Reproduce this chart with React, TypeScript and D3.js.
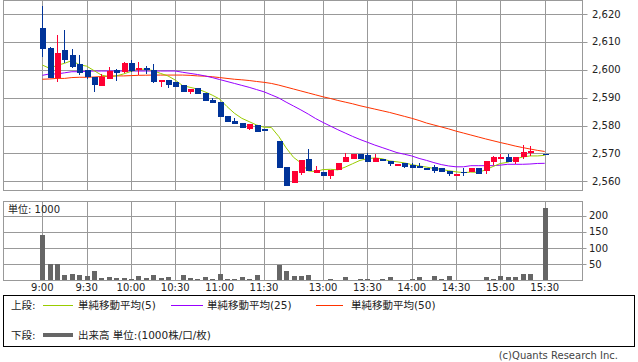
import { useEffect, useRef } from "react";
import * as d3 from "d3";

// ---------------------------------------------------------------------------
// Data (5-minute bars, slot index; null = no trade / lunch gap)
// ---------------------------------------------------------------------------

const OPEN: (number | null)[] = [
  2615.0, 2607.8, 2597.2, 2607.1, 2605.3, 2602.1, 2599.8, 2597.3, 2594.2, 2596.8,
  2599.8, 2599.3, 2602.5, 2599.9, 2600.6, 2599.9, 2595.7, 2596.3, 2595.5, 2594.5,
  2591.9, 2593.6, 2591.7, 2589.3, 2588.5, 2583.4, 2581.6, 2580.9, 2578.9, 2580.2,
  2578.6, null, 2574.5, 2565.2, 2559.4, 2563.1, 2567.9, 2563.1, 2563.3, 2562.0,
  2564.0, 2567.0, 2567.9, 2569.9, 2569.3, 2567.0, 2567.9, 2567.3, 2565.4, 2566.6,
  2565.7, 2565.5, 2564.7, 2565.0, 2564.7, 2563.8, 2562.0, 2563.5, 2563.3, 2564.8,
  2563.6, 2566.9, 2567.9, 2568.6, 2566.9, 2568.6, 2570.0, null, 2569.9,
];

const HIGH: (number | null)[] = [
  2622.9, 2608.0, 2612.5, 2614.3, 2607.5, 2605.3, 2599.8, 2597.3, 2598.5, 2601.1,
  2600.2, 2602.9, 2603.5, 2602.8, 2601.3, 2602.1, 2596.3, 2596.3, 2595.5, 2594.5,
  2593.2, 2593.6, 2591.7, 2590.0, 2588.5, 2583.4, 2582.6, 2580.9, 2580.4, 2580.2,
  2578.6, null, 2574.5, 2565.2, 2563.7, 2567.6, 2571.6, 2565.5, 2563.3, 2564.0,
  2566.7, 2570.0, 2569.9, 2569.9, 2570.0, 2569.8, 2567.9, 2567.3, 2566.3, 2566.6,
  2566.6, 2566.4, 2564.7, 2565.7, 2564.7, 2563.8, 2562.7, 2564.9, 2564.8, 2564.8,
  2567.2, 2569.1, 2569.7, 2569.8, 2568.6, 2573.0, 2572.8, null, 2569.9,
];

const LOW: (number | null)[] = [
  2604.7, 2597.0, 2595.7, 2602.4, 2600.7, 2598.1, 2596.7, 2592.1, 2594.2, 2596.8,
  2596.1, 2598.9, 2599.3, 2598.1, 2598.5, 2595.4, 2593.9, 2593.3, 2593.8, 2591.9,
  2591.3, 2591.4, 2588.9, 2588.2, 2583.2, 2581.4, 2580.7, 2579.2, 2578.5, 2577.8,
  2578.4, null, 2564.9, 2558.4, 2559.4, 2562.1, 2563.7, 2563.1, 2562.0, 2560.7,
  2564.0, 2567.0, 2567.9, 2567.9, 2567.0, 2567.0, 2567.3, 2565.6, 2565.4, 2564.9,
  2564.9, 2564.8, 2564.5, 2563.1, 2563.4, 2562.0, 2562.0, 2562.0, 2563.3, 2562.6,
  2562.5, 2565.9, 2567.9, 2567.0, 2566.3, 2568.1, 2569.1, null, 2569.7,
];

const CLOSE: (number | null)[] = [
  2607.6, 2597.2, 2606.0, 2603.5, 2601.1, 2598.7, 2597.3, 2594.6, 2597.3, 2599.7,
  2598.7, 2602.5, 2599.7, 2600.6, 2600.2, 2595.6, 2596.3, 2594.5, 2593.8, 2591.9,
  2593.2, 2591.4, 2588.9, 2588.2, 2583.2, 2581.4, 2580.7, 2579.2, 2580.4, 2577.8,
  2578.4, null, 2564.9, 2558.4, 2563.7, 2567.6, 2563.7, 2564.0, 2562.0, 2564.0,
  2566.7, 2568.8, 2569.9, 2567.9, 2567.0, 2568.2, 2567.3, 2566.2, 2566.3, 2565.2,
  2564.9, 2564.8, 2564.5, 2563.8, 2563.4, 2562.5, 2562.7, 2563.3, 2564.8, 2562.6,
  2567.2, 2568.6, 2568.7, 2567.0, 2568.6, 2570.5, 2570.8, null, 2569.7,
];

const VOLUME: (number | null)[] = [
  139, 49.5, 49.5, 18.5, 21.6, 18.5, 12.4, 27.8, 7.2, 10.3,
  7.2, 7.2, 4, 12.4, 7.2, 15.5, 7.2, 9.3, 3, 15.5,
  7.2, 4, 9.3, 4, 21.6, 4, 4, 9.3, 4, 15.5,
  2, null, 47, 27.8, 13.4, 12.4, 18.5, 3, 3, 6,
  3, 9.3, 3, 6, 6, 3, 6, 9.3, 3, 3,
  6, 9.3, 1, 12.4, 4, 12.4, 3, 3, 3, 3,
  9.3, 6, 12.4, 9.3, 9.3, 21.6, 21.6, null, 225,
];

const MA5 = [
  2601.7, 2600.5, 2601.6, 2602.3, 2603.3, 2601.8, 2601.3, 2599.7, 2598.1, 2597.5,
  2597.8, 2598.5, 2599.4, 2600.2, 2600.2, 2599.7, 2598.7, 2597.8, 2596.3, 2594.3,
  2593.7, 2593.1, 2592.1, 2590.9, 2589.5, 2586.8, 2584.4, 2582.6, 2581.4, 2580.2,
  2579.4, 2579.3, 2576.1, 2572.0, 2568.6, 2566.6, 2563.7, 2563.5, 2564.2, 2564.3,
  2564.1, 2565.1, 2566.3, 2567.5, 2568.1, 2568.4, 2568.1, 2567.3, 2567.0, 2566.6,
  2566.0, 2565.5, 2565.1, 2564.6, 2564.3, 2563.8, 2563.4, 2563.1, 2563.3, 2563.2,
  2564.1, 2565.3, 2566.4, 2566.8, 2568.0, 2568.7, 2569.1, 2569.1, 2569.3,
];

const MA25 = [
  2598.0, 2598.5, 2598.5, 2598.9, 2599.3, 2599.3, 2599.45, 2599.55, 2599.55, 2599.55,
  2599.55, 2599.55, 2599.55, 2599.55, 2599.55, 2599.55, 2599.55, 2599.55, 2599.55, 2599.1,
  2598.7, 2598.3, 2597.8, 2597.2, 2596.5, 2595.8, 2595.1, 2594.4, 2593.7, 2592.9,
  2592.1, 2591.0, 2589.9, 2588.4, 2587.0, 2585.6, 2584.1, 2582.5, 2581.1, 2579.8,
  2578.5, 2577.3, 2576.1, 2575.0, 2574.0, 2573.0, 2572.1, 2571.2, 2570.3, 2569.7,
  2569.1, 2568.2, 2567.5, 2566.7, 2566.0, 2565.5, 2565.2, 2565.2, 2565.6, 2565.6,
  2565.6, 2565.6, 2565.8, 2566.1, 2566.1, 2566.1, 2566.2, 2566.4, 2566.45,
];

const MA50 = [
  2596.6, 2596.7, 2596.9, 2596.9, 2597.2, 2597.3, 2597.3, 2597.4, 2597.6, 2597.7,
  2597.8, 2597.8, 2597.9, 2598.0, 2598.05, 2598.1, 2598.1, 2598.1, 2598.1, 2598.1,
  2598.0, 2597.8, 2597.7, 2597.5, 2597.2, 2596.9, 2596.6, 2596.4, 2596.15, 2595.8,
  2595.5, 2595.1, 2594.5, 2593.8, 2593.1, 2592.4, 2591.7, 2591.0, 2590.3, 2589.7,
  2589.0, 2588.4, 2587.8, 2587.1, 2586.5, 2585.9, 2585.3, 2584.7, 2584.0, 2583.3,
  2582.6, 2581.8, 2580.9, 2580.2, 2579.5, 2578.8, 2578.0, 2577.3, 2576.6, 2575.9,
  2575.2, 2574.55, 2573.9, 2573.3, 2572.65, 2572.1, 2571.6, 2571.1, 2570.7,
];

const TIME_TICKS: [number, string][] = [
  [0, "9:00"], [6, "9:30"], [12, "10:00"], [18, "10:30"], [24, "11:00"], [30, "11:30"],
  [38, "13:00"], [44, "13:30"], [50, "14:00"], [56, "14:30"], [62, "15:00"], [68, "15:30"],
];

const PRICE_TICKS = [2560, 2570, 2580, 2590, 2600, 2610, 2620];
const VOLUME_TICKS = [50, 100, 150, 200];

const UP = "#ff0033";
const DOWN = "#003399";
const GRID = "#999999";
const FONT = "'DejaVu Sans', 'Noto Sans CJK JP', sans-serif";

export default function App() {
  const svgRef = useRef<SVGSVGElement>(null);

  useEffect(() => {
    document.body.style.margin = "0";
    const svg = d3.select(svgRef.current);
    svg.selectAll("*").remove();

    const left = 3.5;
    const right = 582.5;
    const priceTop = 0.5;
    const priceBottom = 190.5;
    const volTop = 201.5;
    const volBottom = 280.5;

    const x = d3.scaleLinear().domain([0, 68]).range([42.3, 544.7]);
    const y = d3.scaleLinear().domain([2560, 2620]).range([181.3, 14]);
    const yv = d3.scaleLinear().domain([0, 200]).range([280.5, 215.7]);
    const px = (v: number) => Math.round(v) + 0.5;

    // ---- Price panel grid ----
    const g = svg.append("g");
    g.append("g")
      .selectAll("line")
      .data(PRICE_TICKS)
      .join("line")
      .attr("x1", left)
      .attr("x2", right + 5)
      .attr("y1", (d) => px(y(d)))
      .attr("y2", (d) => px(y(d)))
      .attr("stroke", GRID);
    g.append("g")
      .selectAll("line")
      .data(TIME_TICKS)
      .join("line")
      .attr("x1", (d) => px(x(d[0])))
      .attr("x2", (d) => px(x(d[0])))
      .attr("y1", priceTop)
      .attr("y2", priceBottom)
      .attr("stroke", GRID);
    g.append("rect")
      .attr("x", left)
      .attr("y", priceTop)
      .attr("width", right - left)
      .attr("height", priceBottom - priceTop)
      .attr("fill", "none")
      .attr("stroke", GRID);
    g.append("g")
      .selectAll("text")
      .data(PRICE_TICKS)
      .join("text")
      .attr("x", 592)
      .attr("y", (d) => y(d))
      .attr("dy", "0.35em")
      .attr("font-size", 10)
      .attr("font-family", FONT)
      .attr("fill", "#222")
      .text((d) => d3.format(",")(d));

    // ---- Moving averages ----
    const idx = d3.range(MA5.length);
    const line = (arr: number[]) =>
      d3
        .line<number>()
        .x((i) => x(i))
        .y((i) => y(arr[i]))(idx);
    const mas: [number[], string][] = [
      [MA50, "#ff3300"],
      [MA25, "#9900ff"],
      [MA5, "#99cc00"],
    ];
    mas.forEach(([arr, color]) => {
      g.append("path")
        .attr("d", line(arr))
        .attr("fill", "none")
        .attr("stroke", color)
        .attr("stroke-width", 1);
    });

    // ---- Candles ----
    const bars = idx.filter((i) => OPEN[i] != null);
    const candles = g.append("g").attr("shape-rendering", "crispEdges");
    candles
      .selectAll("line")
      .data(bars)
      .join("line")
      .attr("x1", (i) => px(x(i)))
      .attr("x2", (i) => px(x(i)))
      .attr("y1", (i) => y(HIGH[i]!))
      .attr("y2", (i) => y(LOW[i]!))
      .attr("stroke", (i) => (CLOSE[i]! >= OPEN[i]! ? UP : DOWN));
    candles
      .selectAll("rect")
      .data(bars)
      .join("rect")
      .attr("x", (i) => Math.round(x(i)) - 2)
      .attr("width", 6)
      .attr("y", (i) => y(Math.max(OPEN[i]!, CLOSE[i]!)))
      .attr("height", (i) => Math.max(1.5, Math.abs(y(OPEN[i]!) - y(CLOSE[i]!))))
      .attr("fill", (i) => (CLOSE[i]! >= OPEN[i]! ? UP : DOWN));

    // ---- Volume panel ----
    const vg = svg.append("g");
    vg.append("g")
      .selectAll("line")
      .data(VOLUME_TICKS)
      .join("line")
      .attr("x1", left)
      .attr("x2", right + 4)
      .attr("y1", (d) => px(yv(d)))
      .attr("y2", (d) => px(yv(d)))
      .attr("stroke", GRID);
    vg.append("g")
      .selectAll("line")
      .data(TIME_TICKS)
      .join("line")
      .attr("x1", (d) => px(x(d[0])))
      .attr("x2", (d) => px(x(d[0])))
      .attr("y1", volTop)
      .attr("y2", volBottom)
      .attr("stroke", GRID);
    vg.append("g")
      .attr("shape-rendering", "crispEdges")
      .selectAll("rect")
      .data(idx.filter((i) => VOLUME[i] != null))
      .join("rect")
      .attr("x", (i) => Math.round(x(i)) - 2)
      .attr("width", 5)
      .attr("y", (i) => yv(VOLUME[i]!))
      .attr("height", (i) => yv(0) - yv(VOLUME[i]!))
      .attr("fill", "#666666");
    vg.append("rect")
      .attr("x", left)
      .attr("y", volTop)
      .attr("width", right - left)
      .attr("height", volBottom - volTop)
      .attr("fill", "none")
      .attr("stroke", GRID);
    vg.append("text")
      .attr("x", 8)
      .attr("y", 209)
      .attr("dy", "0.35em")
      .attr("font-size", 10)
      .attr("font-family", FONT)
      .attr("fill", "#222")
      .text("単位: 1000");
    vg.append("g")
      .selectAll("text")
      .data(VOLUME_TICKS)
      .join("text")
      .attr("x", 589)
      .attr("y", (d) => yv(d))
      .attr("dy", "0.35em")
      .attr("font-size", 10)
      .attr("font-family", FONT)
      .attr("fill", "#222")
      .text((d) => d);
    vg.append("g")
      .selectAll("text")
      .data(TIME_TICKS)
      .join("text")
      .attr("x", (d) => x(d[0]))
      .attr("y", 287.5)
      .attr("dy", "0.35em")
      .attr("text-anchor", "middle")
      .attr("font-size", 10)
      .attr("font-family", FONT)
      .attr("fill", "#222")
      .text((d) => d[1]);

    // ---- Legend ----
    const lg = svg.append("g").attr("font-family", FONT).attr("font-size", 10.5).attr("fill", "#222");
    lg.append("rect")
      .attr("x", 3.5)
      .attr("y", 295.5)
      .attr("width", 631)
      .attr("height", 51)
      .attr("fill", "none")
      .attr("stroke", "#000");
    const legendItems: [number, number, number, string, number, string][] = [
      [43, 73, 305, "#99cc00", 78, "単純移動平均(5)"],
      [171, 203, 305, "#9900ff", 207, "単純移動平均(25)"],
      [316, 343, 305, "#ff3300", 351, "単純移動平均(50)"],
    ];
    lg.append("text").attr("x", 11).attr("y", 305).attr("dy", "0.35em").text("上段:");
    legendItems.forEach(([x1, x2, ly, color, tx, label]) => {
      lg.append("line").attr("x1", x1).attr("x2", x2).attr("y1", ly + 0.5).attr("y2", ly + 0.5).attr("stroke", color);
      lg.append("text").attr("x", tx).attr("y", ly).attr("dy", "0.35em").text(label);
    });
    lg.append("text").attr("x", 11).attr("y", 335).attr("dy", "0.35em").text("下段:");
    lg.append("line").attr("x1", 43).attr("x2", 73).attr("y1", 335).attr("y2", 335).attr("stroke", "#666").attr("stroke-width", 4);
    lg.append("text").attr("x", 78).attr("y", 335).attr("dy", "0.35em").text("出来高 単位:(1000株/口/枚)");

    svg.append("text")
      .attr("x", 618)
      .attr("y", 355.5)
      .attr("dy", "0.35em")
      .attr("text-anchor", "end")
      .attr("font-size", 10)
      .attr("font-family", FONT)
      .attr("fill", "#444")
      .text("(c)Quants Research Inc.");
  }, []);

  return <svg ref={svgRef} width={638} height={362} style={{ display: "block", background: "#fff" }} />;
}
